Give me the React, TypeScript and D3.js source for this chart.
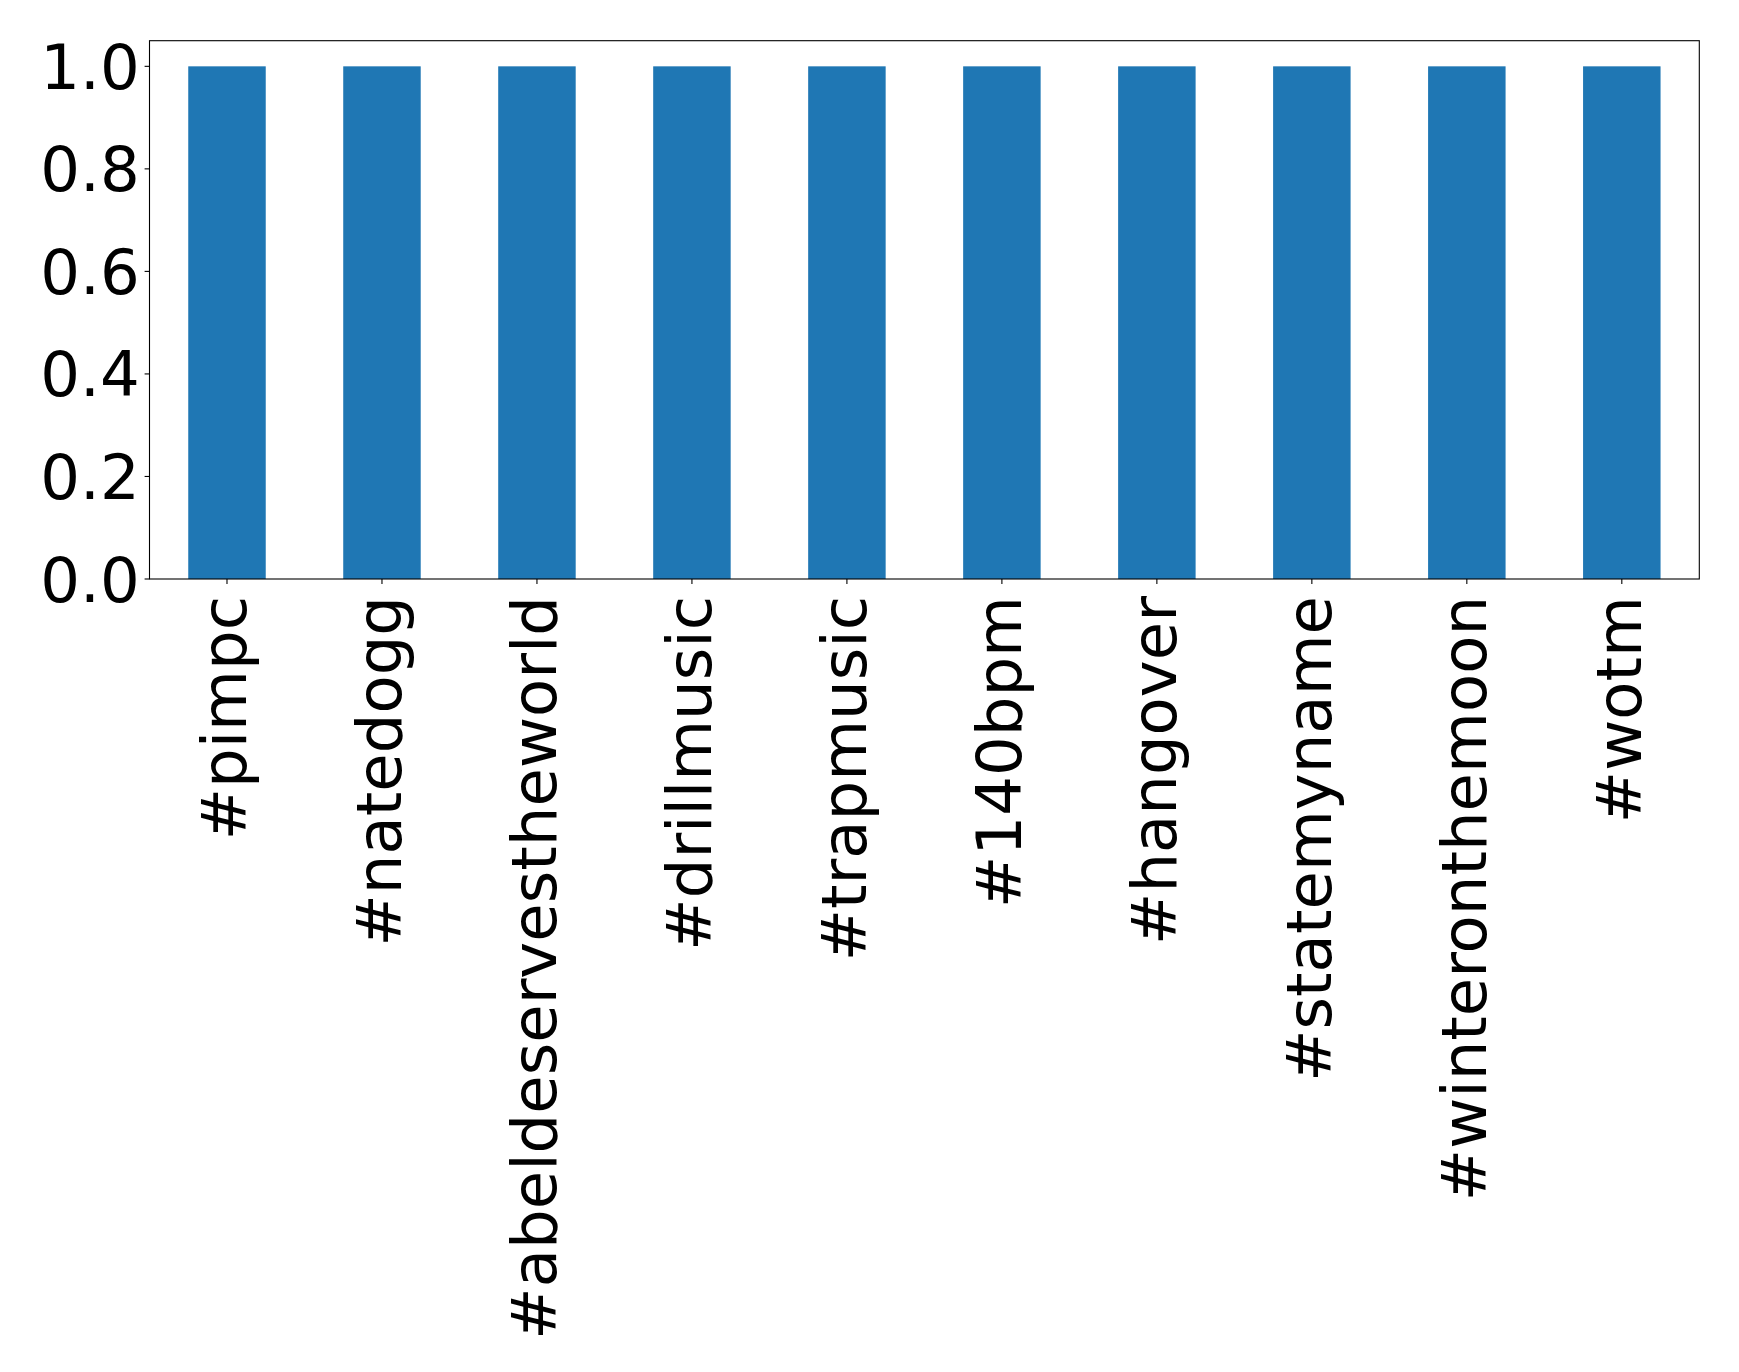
import React, { useEffect, useRef } from "react";
import * as d3 from "d3";

const categories: string[] = [
  "#pimpc",
  "#natedogg",
  "#abeldeservestheworld",
  "#drillmusic",
  "#trapmusic",
  "#140bpm",
  "#hangover",
  "#statemyname",
  "#winteronthemoon",
  "#wotm",
];
const values: number[] = [1, 1, 1, 1, 1, 1, 1, 1, 1, 1];
const yTicks: number[] = [0, 0.2, 0.4, 0.6, 0.8, 1.0];

const W = 1739;
const H = 1372;
const margin = { left: 149.5, top: 40.7, right: W - 1699.3, bottom: H - 579 };
const FONT = "'DejaVu Sans', sans-serif";
const FS = 62.5;

export default function App() {
  const ref = useRef<SVGSVGElement | null>(null);

  useEffect(() => {
    const svg = d3.select(ref.current);
    svg.selectAll("*").remove();
    const x0 = margin.left;
    const x1 = W - margin.right;
    const y0 = H - margin.bottom;
    const y1 = margin.top;

    const x = d3.scaleLinear().domain([-0.5, categories.length - 0.5]).range([x0, x1]);
    const y = d3.scaleLinear().domain([0, 1.05]).range([y0, y1]);
    const bw = 0.5;

    svg.append("rect").attr("x", 0).attr("y", 0).attr("width", W).attr("height", H).attr("fill", "#fff");

    svg
      .append("g")
      .selectAll("rect")
      .data(values)
      .join("rect")
      .attr("x", (_d, i) => x(i - bw / 2))
      .attr("width", (_d, i) => x(i + bw / 2) - x(i - bw / 2))
      .attr("y", (d) => y(d))
      .attr("height", (d) => y(0) - y(d))
      .attr("fill", "#1f77b4");

    // spines
    svg
      .append("rect")
      .attr("x", x0)
      .attr("y", y1)
      .attr("width", x1 - x0)
      .attr("height", y0 - y1)
      .attr("fill", "none")
      .attr("stroke", "#000")
      .attr("stroke-width", 1.1);

    const tickLen = 4.9;
    // y ticks
    const yg = svg.append("g");
    yTicks.forEach((t) => {
      yg.append("line")
        .attr("x1", x0 - tickLen)
        .attr("x2", x0)
        .attr("y1", y(t))
        .attr("y2", y(t))
        .attr("stroke", "#000")
        .attr("stroke-width", 1.1);
      yg.append("text")
        .attr("x", x0 - tickLen - 4.9)
        .attr("y", y(t))
        .attr("dy", "0.36em")
        .attr("text-anchor", "end")
        .attr("font-family", FONT)
        .attr("font-size", FS)
        .attr("fill", "#000")
        .text(t.toFixed(1));
    });

    // x ticks
    const xg = svg.append("g");
    categories.forEach((c, i) => {
      xg.append("line")
        .attr("x1", x(i))
        .attr("x2", x(i))
        .attr("y1", y0)
        .attr("y2", y0 + tickLen)
        .attr("stroke", "#000")
        .attr("stroke-width", 1.1);
      xg.append("text")
        .attr("transform", `translate(${x(i)},${y0 + 17}) rotate(-90)`)
        .attr("dy", "0.31em")
        .attr("text-anchor", "end")
        .attr("font-family", FONT)
        .attr("font-size", FS)
        .attr("fill", "#000")
        .text(c);
    });
  }, []);

  return (
    <svg
      ref={ref}
      width={W}
      height={H}
      style={{ position: "absolute", left: 0, top: 0, display: "block" }}
    />
  );
}
